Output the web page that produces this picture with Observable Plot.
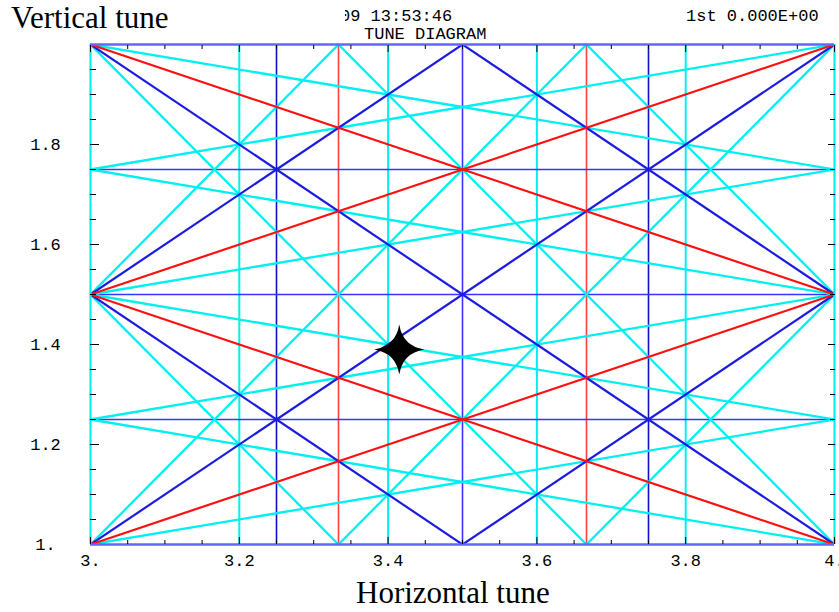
<!DOCTYPE html>
<html>
<head>
<meta charset="utf-8">
<script src="https://cdn.jsdelivr.net/npm/d3@7"></script>
<script src="https://cdn.jsdelivr.net/npm/@observablehq/plot@0.6"></script>
<style>
  html, body { margin: 0; padding: 0; background: #ffffff; }
  #wrap { position: relative; width: 839px; height: 612px; overflow: hidden; background: #fff; }
  #wrap > svg { position: absolute; left: 0; top: 0; }
  #overlay { position: absolute; left: 0; top: 0; pointer-events: none; }
</style>
</head>
<body>
<div id="wrap"></div>
<script>
// ---- Data: tune diagram (normal resonances m*Qx + n*Qy = p) ----
const xDomain = [3, 4];
const yDomain = [1, 2];

// Vertical resonance lines (Qx = const)
const cyanVerticals = [3, 3.2, 3.4, 3.6, 3.8, 4];
const blueVerticals = [3.25, 3.75];
const blueHalfVertical = [3.5];
const redVerticals = [10 / 3, 11 / 3];

// Horizontal resonance lines (Qy = const)
const blueHorizontals = [1.25, 1.5, 1.75];

// Sloped resonance lines: m*Qx + n*Qy = p
const cyanResonances = [
  {m: 3, n: 2, p: 12}, {m: 3, n: 2, p: 13}, {m: 3, n: 2, p: 14}, {m: 3, n: 2, p: 15},
  {m: 3, n: -2, p: 6}, {m: 3, n: -2, p: 7}, {m: 3, n: -2, p: 8}, {m: 3, n: -2, p: 9},
  {m: 1, n: 4, p: 8}, {m: 1, n: 4, p: 9}, {m: 1, n: 4, p: 10}, {m: 1, n: 4, p: 11},
  {m: 1, n: -4, p: -4}, {m: 1, n: -4, p: -3}, {m: 1, n: -4, p: -2}, {m: 1, n: -4, p: -1}
];
const blueResonances = [
  {m: 2, n: 2, p: 9}, {m: 2, n: 2, p: 10}, {m: 2, n: 2, p: 11},
  {m: 2, n: -2, p: 3}, {m: 2, n: -2, p: 4}, {m: 2, n: -2, p: 5}
];
const redResonances = [
  {m: 1, n: 2, p: 6}, {m: 1, n: 2, p: 7},
  {m: 1, n: -2, p: 0}, {m: 1, n: -2, p: 1}
];

// Working point
const tunePoint = [{qx: 3.415, qy: 1.39}];

// Ticks
const xMinorTicks = [3.05, 3.1, 3.15, 3.25, 3.3, 3.35, 3.45, 3.5, 3.55, 3.65, 3.7, 3.75, 3.85, 3.9, 3.95];
const xMajorTicks = [3, 3.2, 3.4, 3.6, 3.8, 4];
const yMinorTicks = [1.05, 1.1, 1.15, 1.25, 1.3, 1.35, 1.45, 1.5, 1.55, 1.65, 1.7, 1.75, 1.85, 1.9, 1.95];
const yMajorTicks = [1.2, 1.4, 1.6, 1.8];
const yLabelTicks = [1, 1.2, 1.4, 1.6, 1.8];

// ---- Styles ----
const CYAN = "#00f0f0";
const BLUE_DIAG = "#1c1ce0";
const BLUE_RULE = "#3535ff";
const BLUE_DARK = "#1010c8";
const RED = "#ff1010";
const RED_RULE = "#ff4040";
const AXIS = "#6464ff";

const fmt = d => Number.isInteger(d) ? d + "." : d.toFixed(1);
const blank = () => "";

const y1At = d => (d.p - d.m * xDomain[0]) / d.n;
const y2At = d => (d.p - d.m * xDomain[1]) / d.n;
const resonanceLinks = (data, stroke, strokeWidth) =>
  Plot.link(data, {
    x1: () => xDomain[0], y1: y1At,
    x2: () => xDomain[1], y2: y2At,
    stroke, strokeWidth, clip: true
  });

const tickAxisX = (ticks, anchor, size) =>
  Plot.axisX(ticks, {anchor, tickSize: size, tickFormat: blank, label: null, stroke: "#000"});
const tickAxisY = (ticks, anchor, size) =>
  Plot.axisY(ticks, {anchor, tickSize: size, tickFormat: blank, label: null, stroke: "#000"});

// Four-pointed star symbol
const star4 = {
  draw(context, size) {
    const R = Math.sqrt(size / Math.PI);
    const c = 0.14 * R;
    context.moveTo(0, -R);
    context.quadraticCurveTo(c, -c, R, 0);
    context.quadraticCurveTo(c, c, 0, R);
    context.quadraticCurveTo(-c, c, -R, 0);
    context.quadraticCurveTo(-c, -c, 0, -R);
    context.closePath();
  }
};

const chart = Plot.plot({
  width: 839,
  height: 612,
  marginLeft: 90,
  marginRight: 5,
  marginTop: 44,
  marginBottom: 68,
  style: {fontFamily: "'Liberation Mono', 'DejaVu Sans Mono', monospace", fontSize: "17px", color: "#000", background: "#fff"},
  x: {domain: xDomain, axis: null, label: null},
  y: {domain: yDomain, axis: null, label: null},
  marks: [
    Plot.ruleX(cyanVerticals.slice(1, -1), {stroke: CYAN, strokeWidth: 2}),
    Plot.ruleX(redVerticals, {stroke: RED_RULE, strokeWidth: 1.6}),
    Plot.ruleX(blueVerticals, {stroke: BLUE_DARK, strokeWidth: 1.6}),
    Plot.ruleX(blueHalfVertical, {stroke: BLUE_RULE, strokeWidth: 1.6}),
    Plot.ruleY(blueHorizontals, {stroke: BLUE_RULE, strokeWidth: 1.3}),
    resonanceLinks(cyanResonances, CYAN, 2.3),
    resonanceLinks(blueResonances, BLUE_DIAG, 2.2),
    resonanceLinks(redResonances, RED, 2.2),
    Plot.ruleX([cyanVerticals[0], cyanVerticals[cyanVerticals.length - 1]], {stroke: CYAN, strokeWidth: 2.2}),
    Plot.ruleY(yDomain, {stroke: AXIS, strokeWidth: 2.6}),
    // inward minor ticks
    tickAxisX(xMinorTicks, "bottom", -4),
    tickAxisX(xMinorTicks, "top", -4),
    tickAxisY(yMinorTicks, "left", -6),
    tickAxisY(yMinorTicks, "right", -5),
    // inward major ticks
    tickAxisX(xMajorTicks, "bottom", -7),
    tickAxisX(xMajorTicks, "top", -7),
    tickAxisY(yMajorTicks, "left", -9),
    tickAxisY(yMajorTicks, "right", -7),
    // labels
    Plot.axisX(xMajorTicks, {anchor: "bottom", tickSize: 0, tickPadding: 9, tickFormat: fmt, label: null}),
    Plot.axisY(yLabelTicks, {anchor: "left", tickSize: 0, tickPadding: 45, textAnchor: "middle", tickFormat: fmt, label: null}),
    // working point
    Plot.dot(tunePoint, {x: "qx", y: "qy", symbol: star4, r: 25, fill: "#000", stroke: "none"})
  ]
});

const wrap = document.getElementById("wrap");
wrap.appendChild(chart);

// ---- Titles / annotations (overlay) ----
const ns = "http://www.w3.org/2000/svg";
const ov = document.createElementNS(ns, "svg");
ov.setAttribute("id", "overlay");
ov.setAttribute("width", 839);
ov.setAttribute("height", 612);
ov.innerHTML = `
  <defs><clipPath id="timeclip"><rect x="345" y="0" width="200" height="30"/></clipPath></defs>
  <text x="11" y="28" font-family="'Liberation Serif', 'Times New Roman', serif" font-size="31" fill="#000">Vertical tune</text>
  <text x="356" y="603" font-family="'Liberation Serif', 'Times New Roman', serif" font-size="31" fill="#000">Horizontal tune</text>
  <g font-family="'Liberation Mono', 'DejaVu Sans Mono', monospace" font-size="17" fill="#000">
    <text x="340" y="21" clip-path="url(#timeclip)">09 13:53:46</text>
    <text x="364" y="39">TUNE DIAGRAM</text>
    <text x="686" y="21">1st 0.000E+00</text>
  </g>`;
wrap.appendChild(ov);
</script>
</body>
</html>
